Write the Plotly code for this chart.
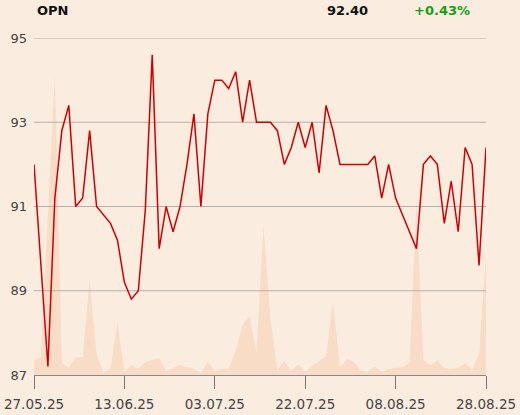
import plotly.graph_objects as go

# Trading-day index 0..65 between 27.05.25 and 28.08.25
tick_labels = ["27.05.25", "13.06.25", "03.07.25", "22.07.25", "08.08.25", "28.08.25"]
tick_index = [0, 13, 26, 39, 52, 65]
price_ticks = [87, 89, 91, 93, 95]

price = [92.0, 89.6, 87.2, 91.2, 92.8, 93.4, 91.0, 91.2, 92.8, 91.0,
         90.8, 90.6, 90.2, 89.2, 88.8, 89.0, 90.9, 94.6, 90.0, 91.0,
         90.4, 91.0, 92.0, 93.2, 91.0, 93.2, 94.0, 94.0, 93.8, 94.2,
         93.0, 94.0, 93.0, 93.0, 93.0, 92.8, 92.0, 92.4, 93.0, 92.4,
         93.0, 91.8, 93.4, 92.8, 92.0, 92.0, 92.0, 92.0, 92.0, 92.2,
         91.2, 92.0, 91.2, 90.8, 90.4, 90.0, 92.0, 92.2, 92.0, 90.6,
         91.6, 90.4, 92.4, 92.0, 89.6, 92.4]

volume = [15, 18, 160, 300, 12, 7, 18, 18, 95, 21,
          3, 6, 52, 3, 10, 6, 13, 15, 17, 4,
          7, 10, 8, 6, 2, 13, 4, 6, 6, 24,
          50, 59, 22, 149, 56, 5, 14, 4, 11, 3,
          9, 14, 19, 73, 8, 16, 13, 4, 3, 9,
          3, 6, 7, 8, 12, 172, 15, 10, 14, 7,
          6, 7, 12, 5, 21, 122]

x = list(range(len(price)))

header_symbol = "OPN"
header_price = "92.40"
header_change = "+0.43%"

bg = "#fbece0"

fig = go.Figure()
# volume area on the (hidden) base axis
fig.add_trace(go.Scatter(
    x=x, y=volume, yaxis="y", mode="lines", fill="tozeroy",
    line=dict(width=0, color="#f8dcc6"), fillcolor="#f8dcc6",
    hoverinfo="skip", showlegend=False))

# horizontal gridlines drawn above the volume area, below the price line
gx, gy = [], []
for v in price_ticks[1:]:
    gx += [x[0], x[-1], None]
    gy += [v, v, None]
fig.add_trace(go.Scatter(
    x=gx, y=gy, yaxis="y2", mode="lines",
    line=dict(color="#b4b0ac", width=1),
    hoverinfo="skip", showlegend=False))

fig.add_trace(go.Scatter(
    x=x, y=price, yaxis="y2", mode="lines",
    line=dict(color="#d00000", width=1.5),
    showlegend=False))

fig.update_layout(
    width=520, height=415,
    paper_bgcolor=bg, plot_bgcolor=bg,
    margin=dict(l=34, r=34, t=38, b=40, autoexpand=False),
    font=dict(family="DejaVu Sans", color="#444"),
    xaxis=dict(
        range=[0, 65], tickvals=tick_index, ticktext=tick_labels,
        showgrid=False, zeroline=False, automargin=False,
        showline=True, linecolor="#888", linewidth=1,
        ticks="outside", ticklen=13, tickcolor="#777", tickwidth=1,
        tickfont=dict(size=13.5, color="#444"),
        ticklabelstandoff=4,
    ),
    yaxis=dict(
        range=[0, 337], visible=False, automargin=False, showgrid=False,
    ),
    yaxis2=dict(
        range=[87, 95], tickvals=price_ticks, automargin=False,
        overlaying="y", side="left",
        showgrid=False, zeroline=False, showline=False, ticks="",
        tickfont=dict(size=13, color="#444"),
        ticklabelstandoff=6,
    ),
)

def px_x(p):
    return (p - 34) / (520 - 68)

def px_y(p):
    return (415 - 40 - p) / (415 - 78)

fig.add_annotation(text="<b>" + header_symbol + "</b>", x=px_x(35), y=px_y(10), xref="paper", yref="paper",
                   xanchor="left", yanchor="middle", showarrow=False,
                   font=dict(size=13, color="#111", family="DejaVu Sans"))
fig.add_annotation(text="<b>" + header_price + "</b>", x=px_x(370), y=px_y(10), xref="paper", yref="paper",
                   xanchor="right", yanchor="middle", showarrow=False,
                   font=dict(size=13, color="#111", family="DejaVu Sans"))
fig.add_annotation(text="<b>" + header_change + "</b>", x=px_x(412), y=px_y(10), xref="paper", yref="paper",
                   xanchor="left", yanchor="middle", showarrow=False,
                   font=dict(size=13, color="#12a012", family="DejaVu Sans"))

fig.write_html("out.html", config={"displayModeBar": False},
               post_script="document.body.style.margin='0';document.body.style.background='" + bg + "';")
